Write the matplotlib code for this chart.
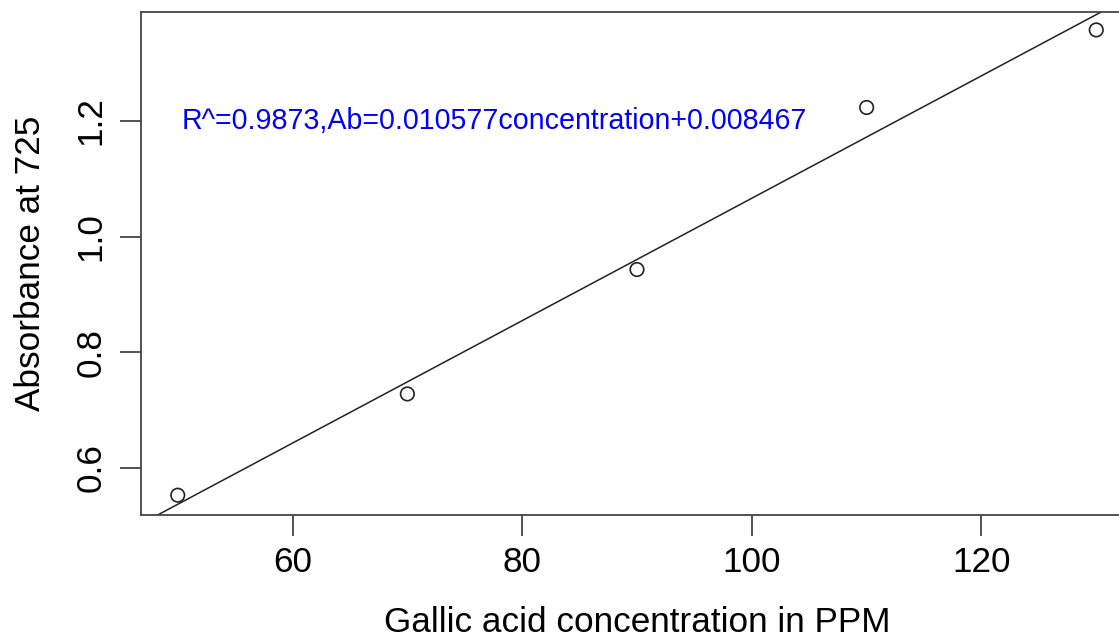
import matplotlib
matplotlib.use("Agg")
import matplotlib.pyplot as plt
import numpy as np

# === DATA =====================================================================
conc = [50, 70, 90, 110, 130]
absorb = [0.553, 0.728, 0.943, 1.223, 1.357]
slope = 0.010577
intercept = 0.008467
label = "R^=0.9873,Ab=0.010577concentration+0.008467"
xticks = [60, 80, 100, 120]
yticks = [0.6, 0.8, 1.0, 1.2]

# === PLOT =====================================================================
plt.rcParams['font.family'] = ['Liberation Sans', 'DejaVu Sans']
fig = plt.figure(figsize=(11.19, 6.41), dpi=100)
ax = fig.add_axes([141 / 1119, 1 - 515 / 641, 992 / 1119, 503 / 641])

ax.scatter(conc, absorb, s=95, facecolors='none', edgecolors='#222222', linewidths=1.2, zorder=3)
xs = np.array([40, 140])
ax.plot(xs, intercept + slope * xs, color='#222222', lw=1.1)
ax.text(50.3, 1.2, label, color='blue', fontsize=20.6, ha='left', va='center')

ax.set_xlim(46.8, 133.2)
ax.set_ylim(0.5188, 1.388)
ax.set_xticks(xticks)
ax.set_yticks(yticks)
ax.set_yticklabels([f"{v:.1f}" for v in yticks], rotation=90, va='center')
ax.tick_params(axis='both', labelsize=25.3, length=15, width=1.3, color='#444444', pad=7)
ax.tick_params(axis='y', pad=9)
for s in ax.spines.values():
    s.set_color('#444444')
    s.set_linewidth(1.3)

ax.set_xlabel("Gallic acid concentration in PPM", fontsize=25.3, labelpad=20)
ax.set_ylabel("Absorbance at 725", fontsize=25.3, labelpad=20)

fig.savefig("out.png", dpi=100)
